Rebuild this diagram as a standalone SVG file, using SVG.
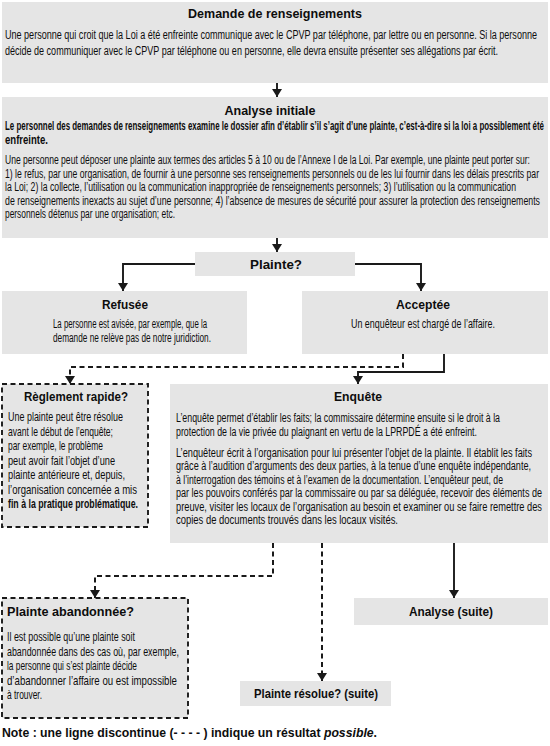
<svg xmlns="http://www.w3.org/2000/svg" width="550" height="746" viewBox="0 0 550 746">
<defs>
<style>
.box{fill:#e5e5e5}
.dbox{fill:#e5e5e5;stroke:#1a1a1a;stroke-width:1.9;stroke-dasharray:5 3.5}
text{font-family:"Liberation Sans",Arial,sans-serif;fill:#0d0d0d}
.t{font-size:12px}
.tl{font-size:13px}
.h{font-size:13px;font-weight:bold}
.c{text-anchor:middle}
.b{font-weight:bold}
.ln{fill:none;stroke:#1a1a1a;stroke-width:1.9}
.dl{fill:none;stroke:#1a1a1a;stroke-width:2;stroke-dasharray:5 3.5}
</style>
<marker id="ah" viewBox="0 0 8 10" refX="8" refY="5" markerWidth="8" markerHeight="10" markerUnits="userSpaceOnUse" orient="auto">
<path d="M0,0 L8,5 L0,10 z" fill="#1a1a1a"/>
</marker>
</defs>

<g id="demande">
<rect class="box" x="2" y="2" width="546" height="81"/>
<text class="h c" x="275" y="18" textLength="174" lengthAdjust="spacingAndGlyphs">Demande de renseignements</text>
<text class="t" x="5" y="39" textLength="532" lengthAdjust="spacingAndGlyphs" style="font-size:12.5px">Une personne qui croit que la Loi a été enfreinte communique avec le CPVP par téléphone, par lettre ou en personne. Si la personne</text>
<text class="t" x="5" y="55" textLength="493" lengthAdjust="spacingAndGlyphs" style="font-size:12.5px">décide de communiquer avec le CPVP par téléphone ou en personne, elle devra ensuite présenter ses allégations par écrit.</text>
</g>

<g id="analyse-initiale">
<rect class="box" x="2" y="97" width="546" height="141"/>
<text class="h c" x="270" y="115" textLength="91" lengthAdjust="spacingAndGlyphs">Analyse initiale</text>
<text class="t b" x="5" y="130" textLength="539" lengthAdjust="spacingAndGlyphs">Le personnel des demandes de renseignements examine le dossier afin d’établir s’il s’agit d’une plainte, c’est-à-dire si la loi a possiblement été</text>
<text class="t b" x="5" y="144" textLength="43" lengthAdjust="spacingAndGlyphs">enfreinte.</text>
<text class="t" x="5" y="164" textLength="525" lengthAdjust="spacingAndGlyphs">Une personne peut déposer une plainte aux termes des articles 5 à 10 ou de l’Annexe I de la Loi. Par exemple, une plainte peut porter sur:</text>
<text class="t" x="5" y="177.5" textLength="534" lengthAdjust="spacingAndGlyphs">1) le refus, par une organisation, de fournir à une personne ses renseignements personnels ou de les lui fournir dans les délais prescrits par</text>
<text class="t" x="5" y="191" textLength="511" lengthAdjust="spacingAndGlyphs">la Loi; 2) la collecte, l’utilisation ou la communication inappropriée de renseignements personnels; 3) l’utilisation ou la communication</text>
<text class="t" x="5" y="204.5" textLength="535" lengthAdjust="spacingAndGlyphs">de renseignements inexacts au sujet d’une personne; 4) l’absence de mesures de sécurité pour assurer la protection des renseignements</text>
<text class="t" x="5" y="218" textLength="170" lengthAdjust="spacingAndGlyphs">personnels détenus par une organisation; etc.</text>
</g>

<g id="plainte">
<rect class="box" x="195" y="252" width="160" height="24"/>
<text class="h c" x="276" y="268.5" textLength="52" lengthAdjust="spacingAndGlyphs">Plainte?</text>
</g>

<g id="refusee">
<rect class="box" x="2" y="291" width="245" height="63"/>
<text class="h c" x="125" y="309" textLength="46" lengthAdjust="spacingAndGlyphs">Refusée</text>
<text class="t" x="53" y="328" textLength="154" lengthAdjust="spacingAndGlyphs">La personne est avisée, par exemple, que la</text>
<text class="t" x="53" y="342" textLength="158" lengthAdjust="spacingAndGlyphs">demande ne relève pas de notre juridiction.</text>
</g>

<g id="acceptee">
<rect class="box" x="302" y="291" width="246" height="63"/>
<text class="h c" x="423" y="309" textLength="54" lengthAdjust="spacingAndGlyphs">Acceptée</text>
<text class="t" x="351" y="328" textLength="144" lengthAdjust="spacingAndGlyphs">Un enquêteur est chargé de l’affaire.</text>
</g>

<g id="reglement-rapide">
<rect class="dbox" x="2" y="384" width="146" height="143"/>
<text class="h c" x="76" y="401" textLength="104" lengthAdjust="spacingAndGlyphs">Règlement rapide?</text>
<text class="tl" x="8" y="421" textLength="115" lengthAdjust="spacingAndGlyphs">Une plainte peut être résolue</text>
<text class="tl" x="8" y="435.5" textLength="105" lengthAdjust="spacingAndGlyphs">avant le début de l’enquête;</text>
<text class="tl" x="8" y="450" textLength="95" lengthAdjust="spacingAndGlyphs">par exemple, le problème</text>
<text class="tl" x="8" y="464.5" textLength="107" lengthAdjust="spacingAndGlyphs">peut avoir fait l’objet d’une</text>
<text class="tl" x="8" y="479" textLength="117" lengthAdjust="spacingAndGlyphs">plainte antérieure et, depuis,</text>
<text class="tl" x="8" y="493.5" textLength="129" lengthAdjust="spacingAndGlyphs">l’organisation concernée a mis</text>
<text class="tl b" x="8" y="508" textLength="130" lengthAdjust="spacingAndGlyphs">fin à la pratique problématique.</text>
</g>

<g id="enquete">
<rect class="box" x="170" y="384" width="378" height="159"/>
<text class="h c" x="358" y="401" textLength="48" lengthAdjust="spacingAndGlyphs">Enquête</text>
<text class="t" x="176" y="422" textLength="324" lengthAdjust="spacingAndGlyphs">L’enquête permet d’établir les faits; la commissaire détermine ensuite si le droit à la</text>
<text class="t" x="176" y="436" textLength="301" lengthAdjust="spacingAndGlyphs">protection de la vie privée du plaignant en vertu de la LPRPDÉ a été enfreint.</text>
<text class="t" x="176" y="456.5" textLength="356" lengthAdjust="spacingAndGlyphs">L’enquêteur écrit à l’organisation pour lui présenter l’objet de la plainte. Il établit les faits</text>
<text class="t" x="176" y="470" textLength="355" lengthAdjust="spacingAndGlyphs">grâce à l’audition d’arguments des deux parties, à la tenue d’une enquête indépendante,</text>
<text class="t" x="176" y="483.5" textLength="327" lengthAdjust="spacingAndGlyphs">à l’interrogation des témoins et à l’examen de la documentation. L’enquêteur peut, de</text>
<text class="t" x="176" y="497" textLength="366" lengthAdjust="spacingAndGlyphs">par les pouvoirs conférés par la commissaire ou par sa déléguée, recevoir des éléments de</text>
<text class="t" x="176" y="510.5" textLength="366" lengthAdjust="spacingAndGlyphs">preuve, visiter les locaux de l’organisation au besoin et examiner ou se faire remettre des</text>
<text class="t" x="176" y="524" textLength="222" lengthAdjust="spacingAndGlyphs">copies de documents trouvés dans les locaux visités.</text>
</g>

<g id="plainte-abandonnee">
<rect class="dbox" x="2" y="598" width="186" height="120"/>
<text class="h" x="7" y="616" textLength="127" lengthAdjust="spacingAndGlyphs">Plainte abandonnée?</text>
<text class="tl" x="7" y="641" textLength="128" lengthAdjust="spacingAndGlyphs">Il est possible qu’une plainte soit</text>
<text class="tl" x="7" y="655.5" textLength="172" lengthAdjust="spacingAndGlyphs">abandonnée dans des cas où, par exemple,</text>
<text class="tl" x="7" y="670" textLength="130" lengthAdjust="spacingAndGlyphs">la personne qui s’est plainte décide</text>
<text class="tl" x="7" y="684.5" textLength="170" lengthAdjust="spacingAndGlyphs">d’abandonner l’affaire ou est impossible</text>
<text class="tl" x="7" y="699" textLength="35" lengthAdjust="spacingAndGlyphs">à trouver.</text>
</g>

<g id="analyse-suite">
<rect class="box" x="354" y="598" width="194" height="27"/>
<text class="h c" x="451" y="616" textLength="84" lengthAdjust="spacingAndGlyphs">Analyse (suite)</text>
</g>

<g id="plainte-resolue">
<rect class="box" x="240" y="681" width="151" height="25"/>
<text class="h c" x="316" y="698" textLength="124" lengthAdjust="spacingAndGlyphs">Plainte résolue? (suite)</text>
</g>

<g id="connectors">
<path class="ln" d="M277,83 V97" marker-end="url(#ah)"/>
<path class="ln" d="M277,238 V252" marker-end="url(#ah)"/>
<path class="ln" d="M195,264 H123 V291" marker-end="url(#ah)"/>
<path class="ln" d="M355,264 H421 V291" marker-end="url(#ah)"/>
<path class="dl" d="M403,354 V367 H70 V384" marker-end="url(#ah)"/>
<path class="ln" d="M444,354 V372 H358 V384" marker-end="url(#ah)"/>
<path class="dl" d="M273,543 V576 H95 V598" marker-end="url(#ah)"/>
<path class="dl" d="M322,543 V681" marker-end="url(#ah)"/>
<path class="ln" d="M454,543 V598" marker-end="url(#ah)"/>
</g>

<g id="note">
<text class="b" x="2" y="737" style="font-size:12.25px">Note : une ligne discontinue (- - - - ) indique un résultat <tspan style="font-style:italic">possible</tspan>.</text>
</g>
</svg>
